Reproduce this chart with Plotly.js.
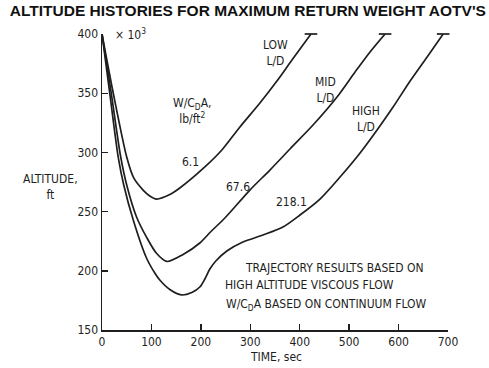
<!DOCTYPE html>
<html>
<head>
<meta charset="utf-8">
<script src="https://cdn.plot.ly/plotly-3.0.1.min.js"></script>
<style>
  html, body { margin: 0; padding: 0; background: #ffffff; }
  #chart { width: 489px; height: 368px; }
</style>
</head>
<body>
<div id="chart"></div>
<script>
// ---- data (time in sec, altitude in 10^3 ft) ----
var lowT   = [0, 22.7, 50.0, 64.2, 83.1, 96.6, 110.2, 137.2, 157.4, 208.1, 242.5, 279.0, 319.5, 353.9, 384.3, 422.8];
var lowAlt = [400, 350.2, 296.1, 278.4, 268.2, 263.2, 260.6, 264.4, 269.9, 287.7, 302.0, 321.5, 341.7, 360.3, 378.0, 400];

var midT   = [0, 18.6, 37.9, 50.0, 69.7, 90.0, 110.2, 131.1, 164.1, 197.9, 220.0, 248.6, 299.2, 339.7, 380.3, 426.9, 475.5, 512.0, 542.3, 572.7];
var midAlt = [400, 350.2, 296.1, 272.5, 245.7, 228.5, 214.8, 207.9, 213.8, 223.5, 233.0, 244.6, 268.2, 285.1, 302.9, 323.1, 346.8, 367.9, 384.8, 400];

var highT   = [0, 15.6, 32.8, 44.0, 63.2, 90.0, 106.8, 116.9, 137.2, 160.9, 181.7, 197.9, 208.1, 218.2, 230.3, 252.6, 285.0, 325.6, 366.1, 400.5, 441.0, 481.6, 522.1, 556.5, 588.9, 623.4, 657.8, 690.2];
var highAlt = [400, 350.2, 296.1, 272.5, 242.9, 210.8, 198.1, 192.2, 184.2, 179.6, 181.7, 186.3, 193.1, 201.5, 208.3, 216.7, 224.3, 230.2, 237.0, 247.1, 260.6, 279.2, 299.5, 318.9, 338.3, 360.3, 380.6, 400];

var seriesNames = ['LOW L/D', 'MID L/D', 'HIGH L/D'];
var wcdaValues  = ['6.1', '67.6', '218.1'];

var xTicks = [0, 100, 200, 300, 400, 500, 600, 700];
var yTicks = [150, 200, 250, 300, 350, 400];

// ---- styling ----
var INK = '#1e1e1e';
var COND = '"DejaVu Sans Condensed", "Liberation Sans Narrow", "DejaVu Sans", sans-serif';

function curve(t, a, name) {
  return {
    type: 'scatter', mode: 'lines', x: t, y: a, name: name,
    line: { color: INK, width: 1.7, shape: 'spline', smoothing: 0.8 },
    hoverinfo: 'skip', showlegend: false
  };
}
function last(arr) { return arr[arr.length - 1]; }

var traces = [
  curve(lowT, lowAlt, seriesNames[0]),
  curve(midT, midAlt, seriesNames[1]),
  curve(highT, highAlt, seriesNames[2]),
  {
    type: 'scatter', mode: 'markers',
    x: [last(lowT), last(midT), last(highT)],
    y: [last(lowAlt), last(midAlt), last(highAlt)],
    marker: { symbol: 'line-ew', size: 9, color: INK, line: { color: INK, width: 1.7 } },
    cliponaxis: false, hoverinfo: 'skip', showlegend: false
  }
];

function lab(x, y, text, opts) {
  var a = { x: x, y: y, xref: 'x', yref: 'y', text: text, showarrow: false,
            font: { family: COND, size: 12, color: INK }, xanchor: 'center', yanchor: 'middle' };
  for (var k in (opts || {})) a[k] = opts[k];
  return a;
}

var annotations = [
  lab(351.9, 384.3, 'LOW<br>L/D'),
  lab(451.3, 352.7, 'MID<br>L/D'),
  lab(534.2, 328.2, 'HIGH<br>L/D'),
  lab(182.1, 335.0, 'W/C<sub>D</sub>A,<br>lb/ft<sup>2</sup>'),
  lab(179.7, 291.9, wcdaValues[0]),
  lab(275.3, 270.8, wcdaValues[1]),
  lab(384.3, 258.1, wcdaValues[2]),
  lab(469.6, 202.4, 'TRAJECTORY RESULTS BASED ON'),
  lab(418.8, 188.0, 'HIGH ALTITUDE VISCOUS FLOW'),
  lab(453.2, 171.1, 'W/C<sub>D</sub>A BASED ON CONTINUUM FLOW'),
  lab(21.7, 400, '\u00d7 10<sup>3</sup>', { xanchor: 'left' }),
  { xref: 'paper', yref: 'paper', x: -0.150, y: 0.483, text: 'ALTITUDE,<br>ft', showarrow: false,
    font: { family: COND, size: 12, color: INK }, xanchor: 'center', yanchor: 'middle' },
  { xref: 'paper', yref: 'paper', x: 0.503, y: -0.090, text: 'TIME, sec', showarrow: false,
    font: { family: COND, size: 12, color: INK }, xanchor: 'center', yanchor: 'middle' }
];

var axisCommon = {
  showgrid: false, zeroline: false, showline: true, linecolor: INK, linewidth: 1.5,
  ticks: 'inside', ticklen: 6, tickwidth: 1.4, tickcolor: INK,
  tickfont: { family: COND, size: 12, color: INK }, fixedrange: true
};

var layout = {
  width: 489, height: 368,
  margin: { l: 102, r: 41, t: 34, b: 38 },
  paper_bgcolor: '#ffffff', plot_bgcolor: '#ffffff',
  title: {
    text: '<b>ALTITUDE HISTORIES FOR MAXIMUM RETURN WEIGHT AOTV\'S</b>',
    font: { family: '"Liberation Sans", Arial, sans-serif', size: 15.5, color: '#111' },
    x: 0.02, xanchor: 'left', xref: 'container',
    y: 0.972, yanchor: 'middle', yref: 'container'
  },
  xaxis: Object.assign({}, axisCommon, { range: [0, 700], tickvals: xTicks, ticktext: xTicks.map(String) }),
  yaxis: Object.assign({}, axisCommon, { range: [150, 400], tickvals: yTicks, ticktext: yTicks.map(String) }),
  annotations: annotations,
  showlegend: false
};

Plotly.newPlot('chart', traces, layout, { staticPlot: true, displayModeBar: false });
</script>
</body>
</html>
